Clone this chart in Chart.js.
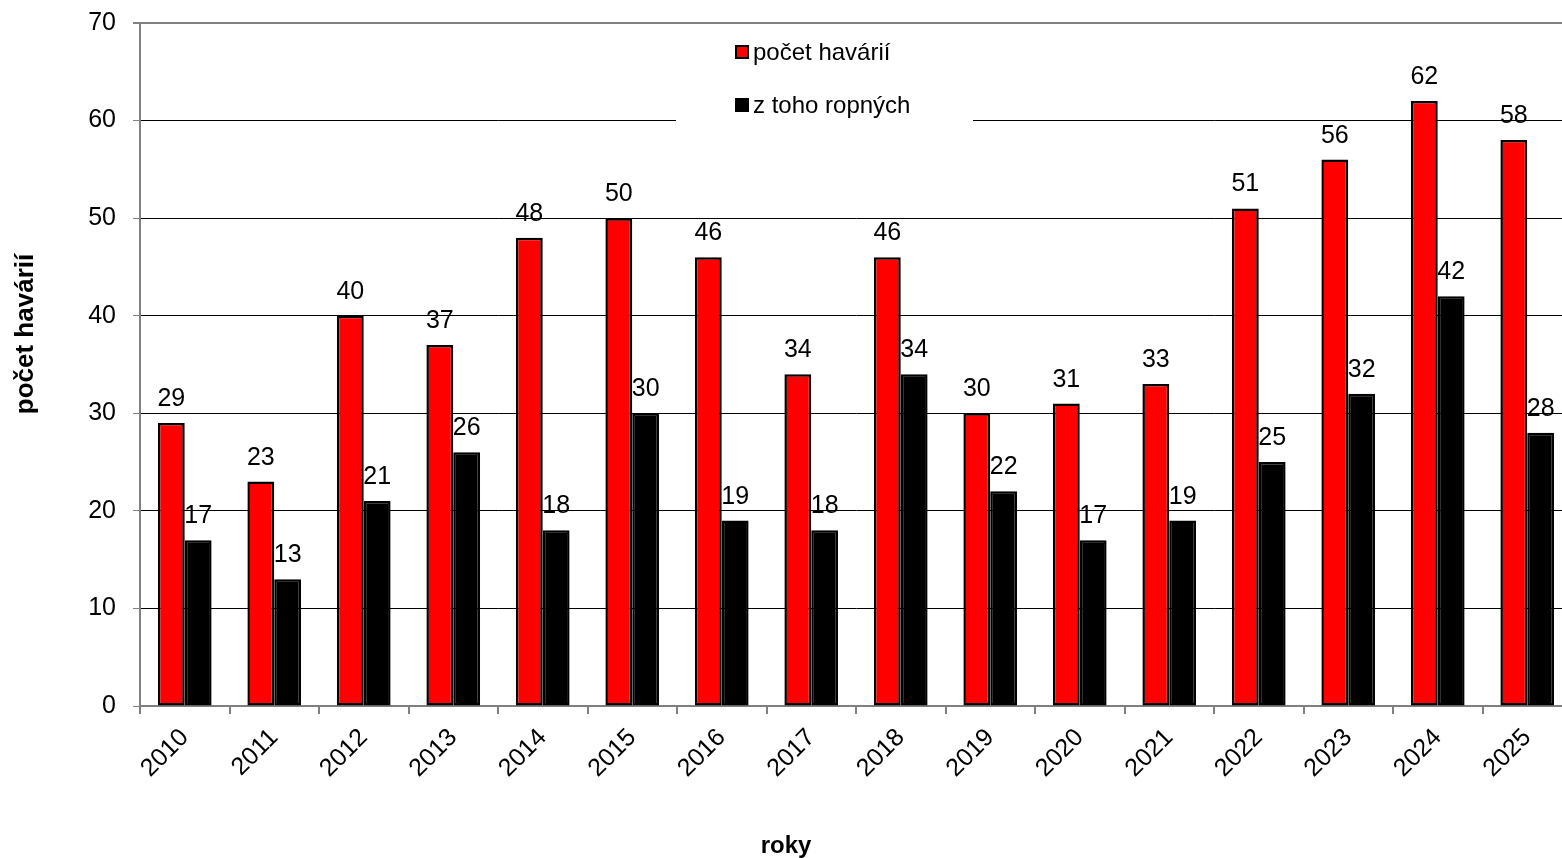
<!DOCTYPE html>
<html>
<head>
<meta charset="utf-8">
<script src="https://cdn.jsdelivr.net/npm/chart.js@4.4.1/dist/chart.umd.min.js"></script>
<style>
html,body{margin:0;padding:0;background:#fff;overflow:hidden}
#wrap{width:1572px;height:858px}
</style>
</head>
<body>
<div id="wrap"><canvas id="c" width="1572" height="858"></canvas></div>
<script>
const years = ['2010','2011','2012','2013','2014','2015','2016','2017','2018','2019','2020','2021','2022','2023','2024','2025'];
const havarie = [29,23,40,37,48,50,46,34,46,30,31,33,51,56,62,58];
const ropne = [17,13,21,26,18,30,19,18,34,22,17,19,25,32,42,28];
const seriesNames = ['počet havárií','z toho ropných'];
const yTicks = [0,10,20,30,40,50,60,70];

const FONT = 'Liberation Sans, Arial, sans-serif';

// hodnoty nad sloupci
const valueLabels = {
  id:'valueLabels',
  afterDatasetsDraw(chart){
    const ctx = chart.ctx;
    ctx.save();
    ctx.font = '25px ' + FONT;
    ctx.fillStyle = '#000';
    ctx.textAlign = 'center';
    ctx.textBaseline = 'alphabetic';
    chart.data.datasets.forEach((ds,i)=>{
      chart.getDatasetMeta(i).data.forEach((bar,j)=>{
        ctx.fillText(ds.data[j], bar.x, bar.y - 17);
      });
    });
    ctx.restore();
  }
};

// legenda uvnitr grafu + popisky os
const boxLegend = {
  id:'boxLegend',
  afterDraw(chart){
    const ctx = chart.ctx;
    ctx.save();
    ctx.fillStyle = '#fff';
    ctx.fillRect(676, 30, 297, 97);
    chart.data.datasets.forEach((ds,i)=>{
      const y = 52 + i*53;
      ctx.fillStyle = ds.backgroundColor;
      ctx.fillRect(736, y-6, 12, 12);
      ctx.strokeStyle = '#000';
      ctx.lineWidth = 2;
      ctx.strokeRect(736, y-6, 12, 12);
      ctx.fillStyle = '#000';
      ctx.font = '24px ' + FONT;
      ctx.textAlign = 'left';
      ctx.textBaseline = 'middle';
      ctx.fillText(ds.label, 753, y+1);
    });
    ctx.font = 'bold 24px ' + FONT;
    ctx.textAlign = 'center';
    ctx.textBaseline = 'middle';
    ctx.fillText('roky', 786, 846);
    ctx.font = 'bold 26px ' + FONT;
    ctx.translate(26, 334);
    ctx.rotate(-Math.PI/2);
    ctx.fillText('počet havárií', 0, 0);
    ctx.restore();
  }
};

new Chart(document.getElementById('c').getContext('2d'),{
  type:'bar',
  data:{
    labels:years,
    datasets:[
      {label:seriesNames[0],data:havarie,backgroundColor:'#ff0000',borderColor:'#000',borderWidth:2.5,borderSkipped:false},
      {label:seriesNames[1],data:ropne,backgroundColor:'#000000',borderColor:'#000',borderWidth:2.5,borderSkipped:false}
    ]
  },
  options:{
    responsive:false,
    animation:false,
    layout:{padding:{top:23,right:0,left:0,bottom:0}},
    datasets:{bar:{categoryPercentage:0.6,barPercentage:1}},
    plugins:{legend:{display:false},tooltip:{enabled:false}},
    scales:{
      x:{
        afterFit(s){s.height = 152;},
        grid:{offset:true,drawOnChartArea:false,tickLength:8,color:'#808080',lineWidth:2},
        border:{color:'#808080',width:2},
        ticks:{maxRotation:45,minRotation:45,padding:9,color:'#000',font:{family:FONT,size:25}}
      },
      y:{
        min:0,max:70,
        afterFit(s){s.width = 140; s.paddingTop = 0; s.paddingBottom = 0;},
        afterBuildTicks(s){s.ticks = yTicks.map(v=>({value:v}));},
        grid:{
          color:c=>c.tick && c.tick.value===70 ? '#808080' : '#000',
          lineWidth:c=>c.tick && c.tick.value===70 ? 2 : 1,
          tickLength:7,tickColor:'#808080'
        },
        border:{color:'#808080',width:2},
        ticks:{stepSize:10,padding:17,color:'#000',font:{family:FONT,size:25}}
      }
    }
  },
  plugins:[valueLabels,boxLegend]
});
</script>
</body>
</html>
